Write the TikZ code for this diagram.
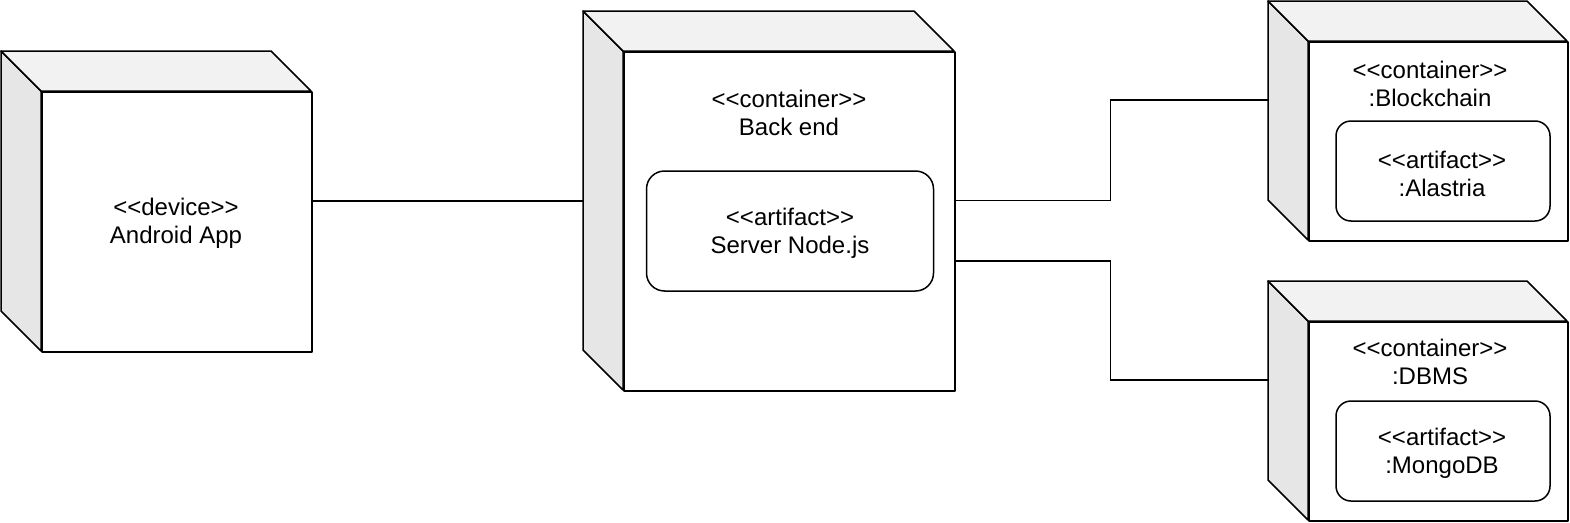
\documentclass[tikz,border=0pt]{standalone}
\usepackage{fontspec}
\setmainfont{Liberation Sans}[Ligatures=TeXOff]
\definecolor{sidegray}{HTML}{E6E6E6}
\definecolor{topgray}{HTML}{F2F2F2}
\tikzset{
  face/.style={line width=1.5pt, draw=black, line join=round},
  sideface/.style={face, fill=sidegray},
  topface/.style={face, fill=topgray},
  frontface/.style={face, fill=white, rectangle, inner sep=0pt, anchor=north west},
  hull/.style={inner sep=0pt, draw=none, rectangle, anchor=north west},
  artifactbox/.style={face, fill=white, rectangle, rounded corners=15pt, inner sep=0pt},
  lbl/.style={font=\fontsize{24}{28}\selectfont, align=center, inner sep=0pt},
  link/.style={line width=1.5pt, draw=black}
}
% name, x1, y1, x2, y2 of the front face (image coordinates)
\newcommand{\umlcube}[5]{%
  \path[sideface] (#2-40,#3-40) -- (#2,#3) -- (#2,#5) -- (#2-40,#5-40) -- cycle;
  \path[topface] (#2-40,#3-40) -- (#4-40,#3-40) -- (#4,#3) -- (#2,#3) -- cycle;
  \node[frontface, minimum width={#4-#2}, minimum height={#5-#3}] (#1-front) at (#2,#3) {};
  \node[hull, minimum width={#4-#2+40}, minimum height={#5-#3+40}] (#1) at (#2-40,#3-40) {};
}
\begin{document}
\begin{tikzpicture}[x=1pt, y=-1pt]
\useasboundingbox (0,0) rectangle (1570,522);

% Android
\umlcube{android}{41}{91}{311}{351}
\node[lbl] (androidlbl) at (176,223) {<<device>>\\Android App};

% Back end
\umlcube{backend}{623}{51}{954}{390}
\node[lbl] (backendlbl) at (789,113) {<<container>>\\Back end};
\node[artifactbox, rounded corners=18pt, minimum width=287, minimum height=120] (server) at (790,231) {};
\node[lbl] (serverlbl) at (790,233) {<<artifact>>\\Server Node.js};

% Blockchain
\umlcube{blockchain}{1308}{41}{1567}{240}
\node[lbl] (blockchainlbl) at (1430,84) {<<container>>\\:Blockchain};
\node[artifactbox, minimum width=214, minimum height=100] (alastria) at (1443,171) {};
\node[lbl] (alastrialbl) at (1442,174) {<<artifact>>\\:Alastria};

% DBMS
\umlcube{dbms}{1308}{321}{1567}{520}
\node[lbl] (dbmslbl) at (1430,362) {<<container>>\\:DBMS};
\node[artifactbox, minimum width=214, minimum height=100] (mongo) at (1443,451) {};
\node[lbl] (mongolbl) at (1442,453) {<<artifact>>\\:MongoDB};

% connectors
\draw[link] (android.east) -- (android.east -| backend.west);
\draw[link] (backend.east) -- ++(156,0) |- ([yshift=20.5pt]blockchain.west);
\draw[link] ([yshift=-60.5pt]backend.east) -- ++(156,0) |- ([yshift=20.5pt]dbms.west);
\end{tikzpicture}
\end{document}
